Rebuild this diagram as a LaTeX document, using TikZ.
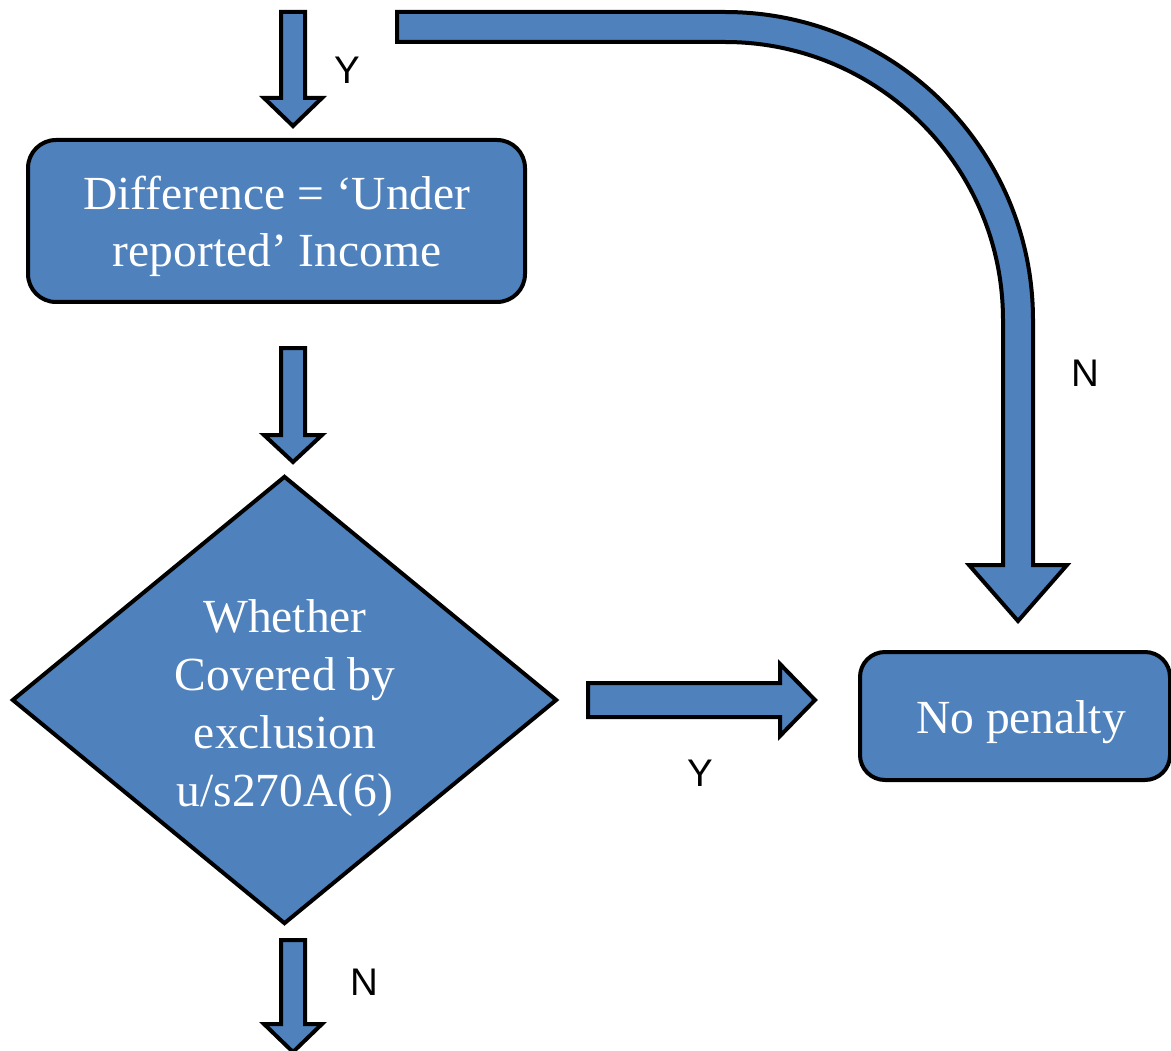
\documentclass[tikz,border=0pt]{standalone}
\usepackage{fontspec}
\setmainfont{Liberation Serif}
\newfontfamily\labelfont{Liberation Sans}
\usetikzlibrary{shapes.geometric}
\definecolor{flowblue}{RGB}{79,129,189}
\tikzset{
  blockfill/.style={fill=flowblue, draw=black, line width=4pt, line join=miter},
  stepbox/.style={blockfill, rounded corners=28pt, inner sep=0pt},
  decision/.style={blockfill, diamond, inner sep=0pt},
  boxtext/.style={text=white, align=center, font=\fontsize{47.5}{57}\selectfont},
  decisiontext/.style={text=white, align=center, font=\fontsize{47.5}{58}\selectfont},
  branchlabel/.style={font=\labelfont\fontsize{38.5}{46}\selectfont, text=black},
}
% vertical block arrow: #1 centre x, #2 tail y, #3 head base y, #4 tip y,
% #5 half shaft width, #6 half head width
\newcommand\downblock[6]{%
  \draw[blockfill] ({#1-#5},#2) -- ({#1+#5},#2) -- ({#1+#5},#3) -- ({#1+#6},#3)
    -- (#1,#4) -- ({#1-#6},#3) -- ({#1-#5},#3) -- cycle;}
% horizontal block arrow: #1 centre y, #2 tail x, #3 head base x, #4 tip x,
% #5 half shaft width, #6 half head width
\newcommand\rightblock[6]{%
  \draw[blockfill] (#2,{#1-#5}) -- (#3,{#1-#5}) -- (#3,{#1-#6}) -- (#4,#1)
    -- (#3,{#1+#6}) -- (#3,{#1+#5}) -- (#2,{#1+#5}) -- cycle;}
\begin{document}
\begin{tikzpicture}[x=1pt,y=-1pt]
  \useasboundingbox (0,0) rectangle (1171,1051);

  % process box, decision and outcome
  \node[stepbox, minimum width=497pt, minimum height=162pt] (diff) at (276.5,221) {};
  \node[boxtext] (difftext) at (277,226) {Difference = ‘Under\\reported’ Income};
  \node[decision, minimum width=545pt, minimum height=448pt] (cover) at (284.5,700) {};
  \node[decisiontext] (covertext) at (285,708)
    {Whether\\Covered by\\exclusion\\u/s270A(6)};
  \node[stepbox, minimum width=310pt, minimum height=128pt, rounded corners=25pt]
    (nopen) at (1015,716) {};
  \node[boxtext] (nopentext) at (1021,722) {No penalty};

  % block arrows
  \downblock{293}{12}{98}{126}{12}{29}
  \downblock{293}{348}{435}{462}{12}{29}
  \downblock{293}{940}{1024}{1052}{12}{29}
  \rightblock{700}{588}{780}{815}{17}{36}

  % bent arrow from the top into the "No penalty" box
  \coordinate (bendstart) at (397,27);
  \coordinate (bendtip) at (1018,621);
  \draw[blockfill] (397,12) -- (725,12) arc[start angle=-90, end angle=0, radius=308]
    -- (1033,565) -- (1067,565) -- (bendtip) -- (969,565) -- (1003,565)
    -- (1003,320) arc[start angle=0, end angle=-90, radius=278] -- (397,42) -- cycle;

  % branch labels
  \node[branchlabel] (ytop) at (347,70) {Y};
  \node[branchlabel] (nright) at (1085,373) {N};
  \node[branchlabel] (ymid) at (700,773) {Y};
  \node[branchlabel] (nbottom) at (364,982) {N};
\end{tikzpicture}
\end{document}
